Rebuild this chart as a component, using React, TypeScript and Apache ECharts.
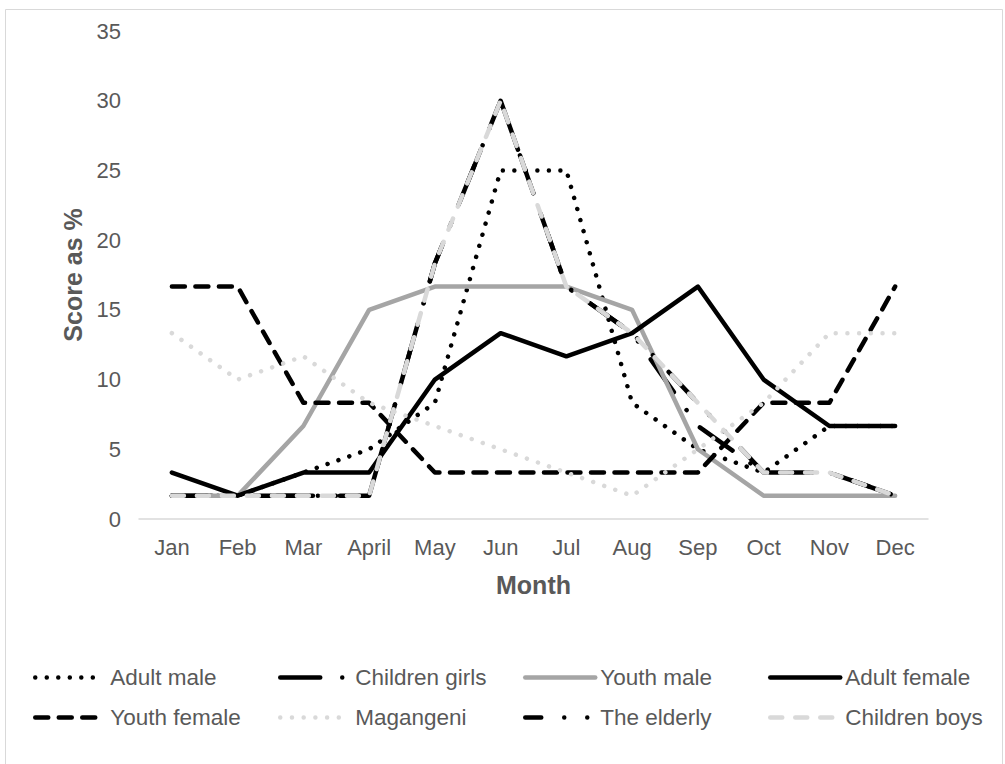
import React, { useEffect, useRef } from "react";
import * as echarts from "echarts";

const months = ["Jan", "Feb", "Mar", "April", "May", "Jun", "Jul", "Aug", "Sep", "Oct", "Nov", "Dec"];
const yTicks = [0, 5, 10, 15, 20, 25, 30, 35];

const adultMale = [1.67, 1.67, 3.33, 5, 8.33, 25, 25, 8.33, 5, 3.33, 6.67, 6.67];
const childrenGirls = [1.67, 1.67, 1.67, 1.67, 18.33, 30, 16.67, 13.33, 6.67, 3.33, 3.33, 1.67];
const youthMale = [1.67, 1.67, 6.67, 15, 16.67, 16.67, 16.67, 15, 5, 1.67, 1.67, 1.67];
const adultFemale = [3.33, 1.67, 3.33, 3.33, 10, 13.33, 11.67, 13.33, 16.67, 10, 6.67, 6.67];
const youthFemale = [16.67, 16.67, 8.33, 8.33, 3.33, 3.33, 3.33, 3.33, 3.33, 8.33, 8.33, 16.67];
const magangeni = [13.33, 10, 11.67, 8.33, 6.67, 5, 3.33, 1.67, 5, 8.33, 13.33, 13.33];
const theElderly = [1.67, 1.67, 1.67, 1.67, 18.33, 30, 16.67, 13.33, 8.33, 3.33, 3.33, 1.67];
const childrenBoys = [1.67, 1.67, 1.67, 1.67, 18.33, 30, 16.67, 13.33, 8.33, 3.33, 3.33, 1.67];

const seriesNames = ["Adult male", "Children girls", "Youth male", "Adult female", "Youth female", "Magangeni", "The elderly", "Children boys"];
const seriesData = [adultMale, childrenGirls, youthMale, adultFemale, youthFemale, magangeni, theElderly, childrenBoys];

// styles (not data)
const seriesStyles: any[] = [
  { color: "#000000", type: [0.01, 11.5], legendOffset: 0, iconW: 63, textPad: 7 },
  { color: "#000000", type: [40, 22, 0.01, 22], legendOffset: 0, iconW: 70, textPad: 0 },
  { color: "#a5a5a5", type: "solid", legendOffset: 0, iconW: 70, textPad: 0 },
  { color: "#000000", type: "solid", legendOffset: 0, iconW: 70, textPad: 0 },
  { color: "#000000", type: [13, 10.5], legendOffset: 0, iconW: 66, textPad: 4 },
  { color: "#d9d9d9", type: [0.01, 11.7], legendOffset: 0, iconW: 66, textPad: 4 },
  { color: "#000000", type: [36, 23, 0.01, 23, 0.01, 23], legendOffset: 20, iconW: 70, textPad: 0 },
  { color: "#d9d9d9", type: [12, 13], legendOffset: 0, iconW: 66, textPad: 4 },
];

const FONT = "'Liberation Sans', Arial, sans-serif";
const TEXT = "#595959";
const LW = 4.5;

export default function App() {
  const ref = useRef<HTMLDivElement>(null);
  useEffect(() => {
    if (!ref.current) return;
    const chart = echarts.init(ref.current, null, { renderer: "svg" });
    const legendCols = [33, 278, 523, 768];
    const legendRows = [666, 706];
    const legends = seriesNames.map((name, i) => ({
      data: [name],
      left: legendCols[i % 4],
      top: legendRows[Math.floor(i / 4)],
      itemWidth: seriesStyles[i].iconW,
      itemHeight: 14,
      itemGap: 0,
      padding: 0,
      selectedMode: false,
      itemStyle: { opacity: 0, color: "rgba(0,0,0,0)", borderWidth: 0 },
      lineStyle: {
        color: seriesStyles[i].color,
        width: LW,
        type: seriesStyles[i].type,
        cap: "round",
        join: "round",
        dashOffset: seriesStyles[i].legendOffset,
      },
      textStyle: {
        color: TEXT,
        fontSize: 22.5,
        fontFamily: FONT,
        padding: [0, 0, 0, seriesStyles[i].textPad],
      },
    }));
    chart.setOption({
      animation: false,
      backgroundColor: "#ffffff",
      textStyle: { fontFamily: FONT },
      grid: { left: 139, right: 77, top: 31, bottom: 245, containLabel: false },
      legend: legends,
      xAxis: {
        type: "category",
        data: months,
        boundaryGap: true,
        axisLine: { show: true, lineStyle: { color: "#d9d9d9", width: 1.5 } },
        axisTick: { show: false },
        axisLabel: { color: TEXT, fontSize: 22, fontFamily: FONT, margin: 17 },
        name: "Month",
        nameLocation: "middle",
        nameGap: 53,
        nameTextStyle: { color: TEXT, fontSize: 25, fontWeight: "bold", fontFamily: FONT },
        splitLine: { show: false },
      },
      yAxis: {
        type: "value",
        min: yTicks[0],
        max: yTicks[yTicks.length - 1],
        interval: 5,
        axisLine: { show: false },
        axisTick: { show: false },
        splitLine: { show: false },
        axisLabel: { color: TEXT, fontSize: 22, fontFamily: FONT, margin: 18 },
        name: "Score as %",
        nameLocation: "middle",
        nameGap: 54,
        nameRotate: 90,
        nameTextStyle: { color: TEXT, fontSize: 25, fontWeight: "bold", fontFamily: FONT },
      },
      graphic: [
        {
          type: "rect",
          shape: { x: 5.5, y: 9.5, width: 997, height: 770 },
          style: { fill: "none", stroke: "#d9d9d9", lineWidth: 1 },
          silent: true,
        },
      ],
      series: seriesNames.map((name, i) => ({
        name,
        type: "line",
        data: seriesData[i],
        symbol: "none",
        showSymbol: false,
        z: 2 + i,
        itemStyle: { color: seriesStyles[i].color },
        lineStyle: {
          color: seriesStyles[i].color,
          width: LW,
          type: seriesStyles[i].type,
          cap: "round",
          join: "round",
        },
        emphasis: { disabled: true },
      })),
    });
    return () => chart.dispose();
  }, []);
  return (
    <div
      ref={ref}
      style={{ position: "fixed", left: 0, top: 0, width: 1005, height: 764, background: "#fff" }}
    />
  );
}
